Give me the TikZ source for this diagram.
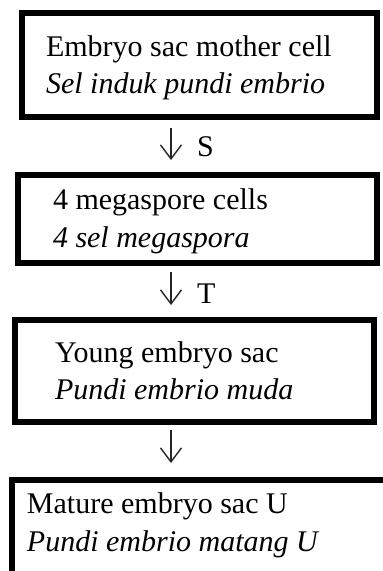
\documentclass[tikz,border=0pt]{standalone}
\usepackage{fontspec}
\setmainfont{Liberation Serif}
\usetikzlibrary{arrows.meta}
\tikzset{
  box/.style={draw=black, line width=6pt, inner sep=0pt, outer sep=0pt, fill=none},
  txt/.style={inner sep=0pt, outer sep=0pt, anchor=base west, font=\fontsize{30}{36}\selectfont},
  itxt/.style={txt, font=\fontsize{30}{36}\selectfont\itshape},
  flowarrow/.style={draw=black!85, line width=1.3pt, -{Straight Barb[length=14pt,width=21pt,line width=1.4pt]}},
}
\begin{document}
\begin{tikzpicture}[x=1pt,y=-1pt]
\useasboundingbox (0,0) rectangle (383,571);
\clip (0,0) rectangle (383,571);
% boxes
\node[box, minimum width=355pt, minimum height=103.5pt] (b1) at (199.5,64.75) {};
\node[box, minimum width=359pt, minimum height=88pt] (b2) at (197.5,219) {};
\node[box, minimum width=358.5pt, minimum height=101.5pt] (b3) at (194.25,370.75) {};
\node[box, minimum width=390pt, minimum height=110pt] (b4) at (207,535) {};
% texts
\node[txt] (t1a) at (46,56) {Embryo sac mother cell};
\node[itxt] (t1b) at (46,93) {Sel induk pundi embrio};
\node[txt] (t2a) at (53,209) {4 megaspore cells};
\node[itxt] (t2b) at (53,247) {4 sel megaspora};
\node[txt] (t3a) at (55,362) {Young embryo sac};
\node[itxt] (t3b) at (55,399) {Pundi embrio muda};
\node[txt] (t4a) at (27,513) {Mature embryo sac U};
\node[itxt] (t4b) at (27,551) {Pundi embrio matang U};
% arrows
\coordinate (ax) at (171,0);
\draw[flowarrow, shorten <=11.5pt, shorten >=15pt] (b1.south -| ax) -- (b2.north -| ax);
\draw[flowarrow, shorten <=9pt, shorten >=15pt] (b2.south -| ax) -- (b3.north -| ax);
\draw[flowarrow, shorten <=8.5pt, shorten >=17pt] (b3.south -| ax) -- (b4.north -| ax);
% labels
\node[txt] (ls) at (197,156) {S};
\node[txt] (lt) at (197,303) {T};
\end{tikzpicture}
\end{document}
